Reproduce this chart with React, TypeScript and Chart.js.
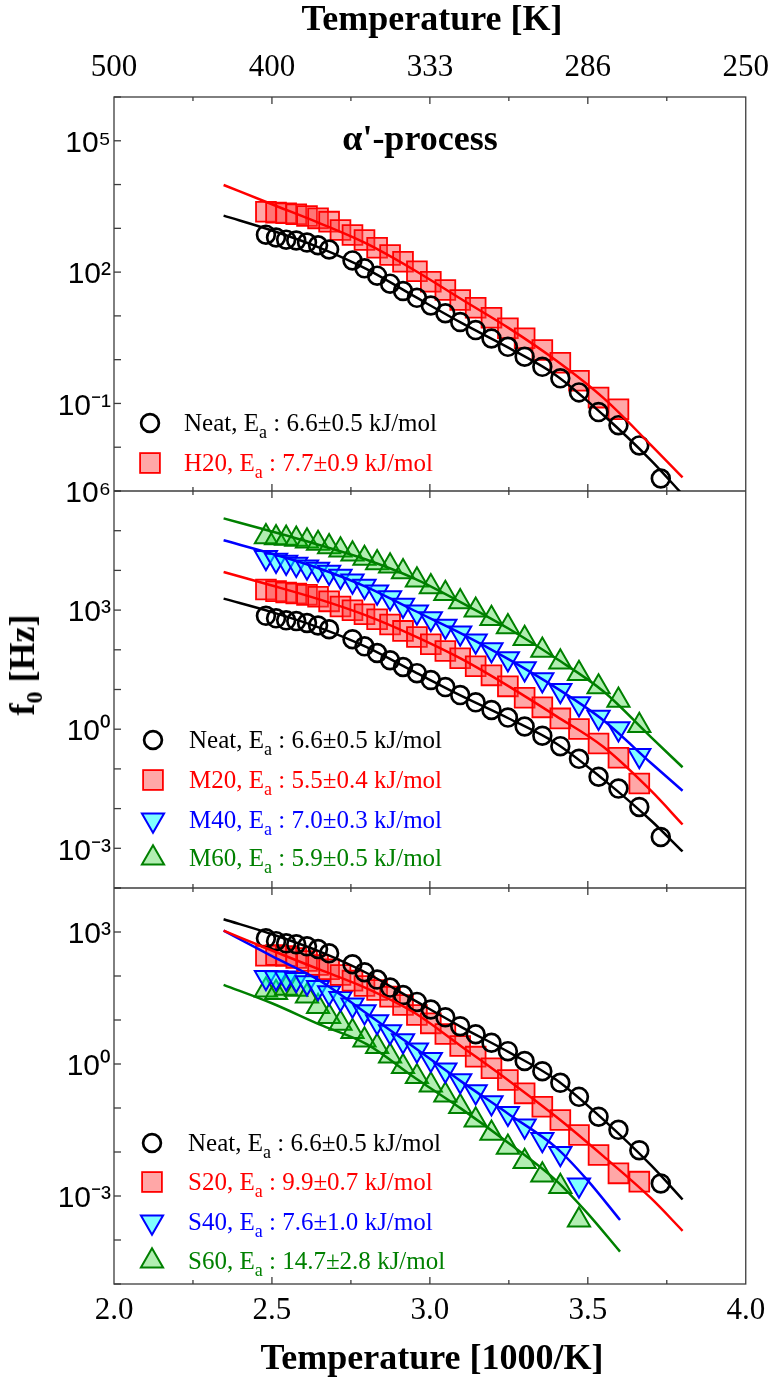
import React, { useEffect, useRef } from 'react';
import { Chart, registerables } from 'chart.js';

Chart.register(...registerables);

const SERIF = '"Liberation Serif", "Times New Roman", Times, serif';
const SANS = '"Liberation Sans", Arial, Helvetica, sans-serif';

// ---------- axes ----------
const X_MIN = 2.0;
const X_MAX = 4.0;
const X_MAJOR_TICKS = [2.5, 3.0, 3.5];
const X_MINOR_TICKS = [2.25, 2.75, 3.25, 3.75];

const Y_TOP_RANGE = [1e-3, 1e6];
const Y_MID_RANGE = [1e-4, 1e6];
const Y_BOT_RANGE = [1e-5, 1e4];
const Y_TOP_LABELED = [5, 2, -1];
const Y_MID_LABELED = [6, 3, 0, -3];
const Y_BOT_LABELED = [3, 0, -3];

// ---------- data (x = 1000/T, f0 in Hz) ----------
const X_NEAT = [2.481, 2.513, 2.545, 2.577, 2.611, 2.646, 2.681, 2.755, 2.793, 2.833, 2.874, 2.915, 2.959, 3.003, 3.049, 3.096, 3.145, 3.195, 3.247, 3.3, 3.356, 3.413, 3.472, 3.534, 3.597, 3.663, 3.731];
const F_NEAT = [718, 619, 552, 528, 473, 411, 329, 185, 122, 83.0, 54.5, 36.9, 25.8, 17.3, 11.5, 7.23, 4.74, 3.04, 1.96, 1.17, 0.686, 0.374, 0.179, 0.0634, 0.0319, 0.011, 0.00193];

const X_H20 = [2.481, 2.513, 2.545, 2.577, 2.611, 2.646, 2.681, 2.717, 2.755, 2.793, 2.833, 2.874, 2.915, 2.959, 3.003, 3.049, 3.096, 3.145, 3.195, 3.247, 3.3, 3.356, 3.413, 3.472, 3.534, 3.597];
const F_H20 = [2400, 2280, 2210, 2090, 1910, 1690, 1420, 916, 705, 542, 361, 246, 173, 105, 60.3, 39.1, 23.1, 15.4, 9.1, 5.21, 3.08, 1.66, 0.853, 0.331, 0.136, 0.0736];

const X_MS = [2.481, 2.513, 2.545, 2.577, 2.611, 2.646, 2.681, 2.717, 2.755, 2.793, 2.833, 2.874, 2.915, 2.959, 3.003, 3.049, 3.096, 3.145, 3.195, 3.247, 3.3, 3.356, 3.413, 3.472, 3.534, 3.597, 3.663];
const F_M20 = [3300, 3000, 2770, 2620, 2420, 2160, 1660, 1230, 993, 787, 589, 432, 299, 211, 138, 93.5, 61.1, 38.4, 22.7, 12.0, 6.22, 3.55, 1.87, 1.01, 0.438, 0.191, 0.0429];
const F_M40 = [21200, 18200, 16100, 14400, 12300, 10800, 9040, 7160, 5460, 4010, 2880, 2070, 1330, 902, 612, 392, 266, 167, 101, 60.0, 33.5, 17.7, 9.53, 4.39, 2.02, 1.03, 0.218];
const F_M60 = [70500, 66400, 64000, 60300, 54700, 47800, 39400, 32400, 25700, 20000, 15600, 12800, 9230, 5680, 3850, 2620, 1610, 993, 612, 378, 191, 97.2, 49.3, 25.1, 11.6, 5.32, 1.24];

const F_S20 = [290, 300, 285, 256, 219, 178, 142, 105, 78.3, 59.3, 48.1, 33.9, 21.9, 13.0, 8.39, 4.81, 2.56, 1.47, 0.798, 0.433, 0.215, 0.107, 0.0533, 0.0243, 0.00855, 0.00327, 0.00212];
const X_S4060 = [2.481, 2.513, 2.545, 2.577, 2.611, 2.646, 2.681, 2.717, 2.755, 2.793, 2.833, 2.874, 2.915, 2.959, 3.003, 3.049, 3.096, 3.145, 3.195, 3.247, 3.3, 3.356, 3.413, 3.472];
const F_S40 = [93.3, 91.6, 90.2, 83.9, 70.5, 55.2, 41.8, 31.0, 21.9, 15.5, 9.16, 5.43, 3.39, 2.08, 1.28, 0.731, 0.418, 0.235, 0.132, 0.0757, 0.039, 0.0194, 0.00933, 0.00178];
const F_S60 = [48.1, 41.8, 52.5, 49.8, 35.1, 20.1, 11.9, 8.39, 5.43, 3.51, 2.48, 1.52, 0.869, 0.515, 0.333, 0.197, 0.107, 0.0533, 0.0265, 0.0128, 0.00603, 0.003, 0.00163, 0.000285];

// ---------- fitted curves ----------
const FIT_X = [2.347, 2.5, 2.65, 2.8, 2.95, 3.1, 3.25, 3.4, 3.55, 3.7, 3.8];
const FIT_X_SHORT = [2.347, 2.5, 2.65, 2.8, 2.95, 3.1, 3.25, 3.4, 3.5, 3.602];
const FIT_NEAT = [1950, 891, 363, 117, 28.2, 6.92, 1.86, 0.437, 0.0537, 0.00501, 0.000832];
const FIT_H20 = [9770, 3550, 1320, 447, 112, 24.0, 5.25, 0.955, 0.132, 0.0112, 0.00204];
const FIT_M20 = [9120, 4170, 1860, 724, 224, 58.9, 12.0, 2.14, 0.355, 0.0282, 0.00398];
const FIT_M40 = [57500, 26300, 11200, 3800, 977, 257, 57.5, 11.0, 1.66, 0.141, 0.0282];
const FIT_M60 = [204000, 95500, 43700, 18600, 6310, 1550, 339, 60.3, 8.91, 0.631, 0.11];
const FIT_S20 = [1070, 380, 141, 52.5, 14.8, 2.51, 0.417, 0.0631, 0.00794, 0.000891, 0.000162];
const FIT_S40 = [1070, 282, 79.4, 14.1, 2.4, 0.398, 0.0724, 0.0126, 0.00224, 0.000285];
const FIT_S60 = [63.1, 24.0, 7.94, 2.82, 0.501, 0.0955, 0.0158, 0.00224, 0.000398, 0.0000543];

// ---------- styles ----------
const BLACK = '#000000';
const RED = '#ff0000';
const BLUE = '#0000ff';
const GREEN = '#008000';
const RED_FILL = 'rgba(255,60,60,0.45)';
const CYAN_FILL = 'rgba(0,255,255,0.5)';
const GREEN_FILL = 'rgba(0,200,0,0.3)';

const CIRCLE_R = 8.9;
const CIRCLE_W = 2.7;
const RECT_R = 14;
const TRI_R = 12.8;

const SUPS: Record<string, string> = { '0': '⁰', '1': '¹', '2': '²', '3': '³', '4': '⁴', '5': '⁵', '6': '⁶', '7': '⁷', '8': '⁸', '9': '⁹', '-': '⁻' };
const supLabel = (d: number) => '10' + String(d).split('').map((c) => SUPS[c] || c).join('');

const pts = (xs: number[], ys: number[]) => xs.map((x, i) => ({ x, y: ys[i] }));

type Kind = 'circle' | 'square' | 'down' | 'up';

const markerDs = (xs: number[], ys: number[], axis: string, kind: Kind, order: number) => {
  const base: any = {
    data: pts(xs, ys),
    yAxisID: axis,
    showLine: false,
    order,
  };
  if (kind === 'circle') {
    Object.assign(base, { pointStyle: 'circle', pointRadius: CIRCLE_R, pointBorderWidth: CIRCLE_W, pointBorderColor: BLACK, pointBackgroundColor: 'rgba(0,0,0,0)' });
  } else if (kind === 'square') {
    Object.assign(base, { pointStyle: 'rect', pointRadius: RECT_R, pointBorderWidth: 1.8, pointBorderColor: RED, pointBackgroundColor: RED_FILL });
  } else if (kind === 'down') {
    Object.assign(base, { pointStyle: 'triangle', pointRotation: 180, pointRadius: TRI_R, pointBorderWidth: 2, pointBorderColor: BLUE, pointBackgroundColor: CYAN_FILL });
  } else {
    Object.assign(base, { pointStyle: 'triangle', pointRadius: TRI_R, pointBorderWidth: 2, pointBorderColor: GREEN, pointBackgroundColor: GREEN_FILL });
  }
  return base;
};

const fitDs = (xs: number[], ys: number[], axis: string, color: string) => ({
  data: pts(xs, ys),
  yAxisID: axis,
  showLine: true,
  borderColor: color,
  borderWidth: 2.5,
  pointRadius: 0,
  cubicInterpolationMode: 'monotone',
  order: 0,
});

const yScale = (range: number[], labeled: number[], weight: number, stackWeight: number) => ({
  type: 'logarithmic',
  position: 'left',
  stack: 'panels',
  stackWeight,
  weight,
  min: range[0],
  max: range[1],
  grid: { display: false, drawTicks: false },
  border: { display: false },
  afterBuildTicks: (s: any) => {
    const lo = Math.round(Math.log10(range[0]));
    const hi = Math.round(Math.log10(range[1]));
    const t: any[] = [];
    for (let d = lo; d <= hi; d++) t.push({ value: Math.pow(10, d) });
    s.ticks = t;
  },
  afterFit: (s: any) => {
    s.width = 114;
  },
  ticks: {
    autoSkip: false,
    padding: 3,
    labelOffset: 3,
    color: BLACK,
    font: { family: SANS, size: 30 },
    callback: (v: any) => {
      const d = Math.round(Math.log10(Number(v)));
      return labeled.includes(d) ? supLabel(d) : '';
    },
  },
});

const framePlugin = {
  id: 'panelFrame',
  beforeDatasetsDraw(chart: any) {
    const { ctx, chartArea: a, scales } = chart;
    const xs = scales.x;
    const panels = [scales.yTop, scales.yMid, scales.yBot];
    ctx.save();
    ctx.strokeStyle = '#3c3c3c';
    ctx.lineWidth = 1.3;
    ctx.strokeRect(a.left, a.top, a.right - a.left, a.bottom - a.top);
    panels.forEach((s: any) => {
      if (s.bottom < a.bottom - 1) {
        ctx.beginPath();
        ctx.moveTo(a.left, s.bottom);
        ctx.lineTo(a.right, s.bottom);
        ctx.stroke();
      }
    });
    const edges = [a.top, ...panels.filter((s: any) => s.bottom < a.bottom - 1).map((s: any) => s.bottom), a.bottom];
    const drawXTick = (v: number, len: number) => {
      const px = xs.getPixelForValue(v);
      edges.forEach((ey: number, i: number) => {
        ctx.beginPath();
        const up = i === 0 ? 0 : len;
        const down = i === edges.length - 1 ? 0 : len;
        ctx.moveTo(px, ey - up);
        ctx.lineTo(px, ey + down);
        ctx.stroke();
      });
    };
    X_MAJOR_TICKS.forEach((v) => drawXTick(v, 7));
    X_MINOR_TICKS.forEach((v) => drawXTick(v, 4));
    panels.forEach((s: any) => {
      const lo = Math.round(Math.log10(s.min));
      const hi = Math.round(Math.log10(s.max));
      for (let d = lo; d <= hi; d++) {
        const py = s.getPixelForValue(Math.pow(10, d));
        ctx.beginPath();
        ctx.moveTo(a.left, py);
        ctx.lineTo(a.left + 7, py);
        ctx.stroke();
      }
    });
    ctx.restore();
  },
};

function Marker({ kind, x, y }: { kind: Kind; x: number; y: number }) {
  const s = 32;
  const c = 16;
  const h = RECT_R * Math.SQRT1_2;
  const tw = TRI_R * Math.sin((2 * Math.PI) / 3);
  const th = TRI_R * 0.5;
  let shape: any = null;
  if (kind === 'circle') shape = <circle cx={c} cy={c} r={CIRCLE_R} fill="none" stroke={BLACK} strokeWidth={CIRCLE_W} />;
  else if (kind === 'square') shape = <rect x={c - h} y={c - h} width={2 * h} height={2 * h} fill={RED_FILL} stroke={RED} strokeWidth={1.8} />;
  else if (kind === 'down')
    shape = <polygon points={`${c},${c + TRI_R} ${c + tw},${c - th} ${c - tw},${c - th}`} fill={CYAN_FILL} stroke={BLUE} strokeWidth={2} />;
  else shape = <polygon points={`${c},${c - TRI_R} ${c + tw},${c + th} ${c - tw},${c + th}`} fill={GREEN_FILL} stroke={GREEN} strokeWidth={2} />;
  return (
    <svg width={s} height={s} style={{ position: 'absolute', left: x - c, top: y - c, overflow: 'visible' }}>
      {shape}
    </svg>
  );
}

function LegendRow({ kind, mx, my, tx, name, value, color }: { kind: Kind; mx: number; my: number; tx: number; name: string; value: string; color: string }) {
  return (
    <>
      <Marker kind={kind} x={mx} y={my} />
      <div
        style={{
          position: 'absolute',
          left: tx,
          top: my - 13,
          fontFamily: SERIF,
          fontSize: 25,
          lineHeight: '25px',
          color,
          whiteSpace: 'nowrap',
        }}
      >
        {name}, E<sub style={{ fontSize: 18, verticalAlign: '-7px', lineHeight: 0 }}>a</sub> : {value} kJ/mol
      </div>
    </>
  );
}

export default function App() {
  const ref = useRef<HTMLCanvasElement>(null);

  useEffect(() => {
    const datasets: any[] = [
      // top panel
      markerDs(X_NEAT, F_NEAT, 'yTop', 'circle', 1),
      markerDs(X_H20, F_H20, 'yTop', 'square', 2),
      fitDs(FIT_X, FIT_NEAT, 'yTop', BLACK),
      fitDs(FIT_X, FIT_H20, 'yTop', RED),
      // middle panel
      markerDs(X_NEAT, F_NEAT, 'yMid', 'circle', 1),
      markerDs(X_MS, F_M20, 'yMid', 'square', 2),
      markerDs(X_MS, F_M40, 'yMid', 'down', 3),
      markerDs(X_MS, F_M60, 'yMid', 'up', 4),
      fitDs(FIT_X, FIT_NEAT, 'yMid', BLACK),
      fitDs(FIT_X, FIT_M20, 'yMid', RED),
      fitDs(FIT_X, FIT_M40, 'yMid', BLUE),
      fitDs(FIT_X, FIT_M60, 'yMid', GREEN),
      // bottom panel
      markerDs(X_NEAT, F_NEAT, 'yBot', 'circle', 1),
      markerDs(X_MS, F_S20, 'yBot', 'square', 2),
      markerDs(X_S4060, F_S40, 'yBot', 'down', 3),
      markerDs(X_S4060, F_S60, 'yBot', 'up', 4),
      fitDs(FIT_X, FIT_NEAT, 'yBot', BLACK),
      fitDs(FIT_X, FIT_S20, 'yBot', RED),
      fitDs(FIT_X_SHORT, FIT_S40, 'yBot', BLUE),
      fitDs(FIT_X_SHORT, FIT_S60, 'yBot', GREEN),
    ];

    const chart = new Chart(ref.current as HTMLCanvasElement, {
      type: 'line',
      data: { datasets },
      options: {
        animation: false,
        responsive: false,
        maintainAspectRatio: false,
        layout: { padding: { left: 0, right: 30, top: 0, bottom: 0 } },
        plugins: { legend: { display: false }, tooltip: { enabled: false } },
        events: [],
        scales: {
          x: {
            type: 'linear',
            position: 'bottom',
            min: X_MIN,
            max: X_MAX,
            grid: { display: false, drawTicks: false },
            border: { display: false },
            afterFit: (s: any) => {
              s.height = 99;
            },
            ticks: {
              stepSize: 0.5,
              autoSkip: false,
              maxRotation: 0,
              padding: 8,
              color: BLACK,
              font: { family: SERIF, size: 31 },
              callback: (v: any) => Number(v).toFixed(1),
            },
          },
          xTop: {
            type: 'linear',
            position: 'top',
            min: X_MIN,
            max: X_MAX,
            grid: { display: false, drawTicks: false },
            border: { display: false },
            afterFit: (s: any) => {
              s.height = 97;
            },
            ticks: {
              stepSize: 0.5,
              autoSkip: false,
              maxRotation: 0,
              padding: 11,
              color: BLACK,
              font: { family: SERIF, size: 31 },
              callback: (v: any) => String(Math.round(1000 / Number(v))),
            },
          },
          yBot: yScale(Y_BOT_RANGE, Y_BOT_LABELED, 1, 396),
          yMid: yScale(Y_MID_RANGE, Y_MID_LABELED, 2, 397),
          yTop: yScale(Y_TOP_RANGE, Y_TOP_LABELED, 3, 394),
        } as any,
      },
      plugins: [framePlugin],
    } as any);
    return () => chart.destroy();
  }, []);

  const titleStyle: any = {
    position: 'absolute',
    fontFamily: SERIF,
    fontWeight: 'bold',
    fontSize: 36,
    lineHeight: '36px',
    color: BLACK,
    whiteSpace: 'nowrap',
  };

  return (
    <div style={{ position: 'absolute', left: 0, top: 0, width: 780, height: 1383, background: '#ffffff', overflow: 'hidden' }}>
      <canvas ref={ref} width={780} height={1383} style={{ position: 'absolute', left: 0, top: 0, width: 780, height: 1383 }} />
      <div style={{ ...titleStyle, left: 432, top: 0, transform: 'translateX(-50%)' }}>Temperature [K]</div>
      <div style={{ ...titleStyle, left: 432, top: 1339, transform: 'translateX(-50%)' }}>Temperature [1000/K]</div>
      <div style={{ ...titleStyle, left: 22, top: 665, transform: 'translate(-50%, -50%) rotate(-90deg)' }}>
        f<sub style={{ fontSize: 24, verticalAlign: '-8px', lineHeight: 0 }}>0</sub> [Hz]
      </div>
      <div style={{ ...titleStyle, left: 420, top: 120, transform: 'translateX(-50%)' }}>α'-process</div>

      <LegendRow kind="circle" mx={150} my={423} tx={184} name="Neat" value="6.6±0.5" color={BLACK} />
      <LegendRow kind="square" mx={150} my={463} tx={184} name="H20" value="7.7±0.9" color={RED} />

      <LegendRow kind="circle" mx={153} my={740} tx={189} name="Neat" value="6.6±0.5" color={BLACK} />
      <LegendRow kind="square" mx={153} my={780} tx={189} name="M20" value="5.5±0.4" color={RED} />
      <LegendRow kind="down" mx={153} my={820} tx={189} name="M40" value="7.0±0.3" color={BLUE} />
      <LegendRow kind="up" mx={153} my={858} tx={189} name="M60" value="5.9±0.5" color={GREEN} />

      <LegendRow kind="circle" mx={152} my={1143} tx={188} name="Neat" value="6.6±0.5" color={BLACK} />
      <LegendRow kind="square" mx={152} my={1182} tx={188} name="S20" value="9.9±0.7" color={RED} />
      <LegendRow kind="down" mx={152} my={1222} tx={188} name="S40" value="7.6±1.0" color={BLUE} />
      <LegendRow kind="up" mx={152} my={1261} tx={188} name="S60" value="14.7±2.8" color={GREEN} />
    </div>
  );
}
